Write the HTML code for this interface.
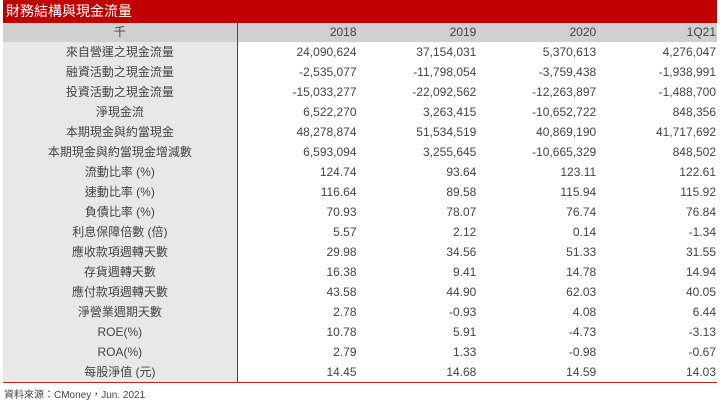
<!DOCTYPE html>
<html><head><meta charset="utf-8"><style>
body{margin:0;width:720px;height:404px;background:#fff;font-family:"Liberation Sans","Noto Sans CJK TC",sans-serif;color:#444;position:relative;overflow:hidden}
.title{position:absolute;left:3px;top:0;width:714px;height:23px;background:#c00000;color:#fff;font-size:14px;line-height:23px;padding-left:3px;box-sizing:border-box}
table{position:absolute;left:3px;top:23px;width:714px;border-collapse:collapse;font-size:12px}
td,th{padding:0;height:20px;line-height:20px;font-weight:normal}
th{background:#d0d0d0;height:19px;line-height:19px;font-size:12px}
td.l,th.l{text-align:center;width:236px;border-right:1.5px solid #444}
td.l{background:#e8e8e8}
td.n,th.n{text-align:right;width:119.5px;padding-right:1px}
tr:last-child td{border-bottom:1.5px solid #b22}
.src{position:absolute;left:4px;top:386px;font-size:10px;color:#444}
</style></head><body>
<div class="title">財務結構與現金流量</div>
<table>
<tr><th class="l">千</th><th class="n">2018</th><th class="n">2019</th><th class="n">2020</th><th class="n">1Q21</th></tr>
<tr><td class="l">來自營運之現金流量</td><td class="n">24,090,624</td><td class="n">37,154,031</td><td class="n">5,370,613</td><td class="n">4,276,047</td></tr>
<tr><td class="l">融資活動之現金流量</td><td class="n">-2,535,077</td><td class="n">-11,798,054</td><td class="n">-3,759,438</td><td class="n">-1,938,991</td></tr>
<tr><td class="l">投資活動之現金流量</td><td class="n">-15,033,277</td><td class="n">-22,092,562</td><td class="n">-12,263,897</td><td class="n">-1,488,700</td></tr>
<tr><td class="l">淨現金流</td><td class="n">6,522,270</td><td class="n">3,263,415</td><td class="n">-10,652,722</td><td class="n">848,356</td></tr>
<tr><td class="l">本期現金與約當現金</td><td class="n">48,278,874</td><td class="n">51,534,519</td><td class="n">40,869,190</td><td class="n">41,717,692</td></tr>
<tr><td class="l">本期現金與約當現金增減數</td><td class="n">6,593,094</td><td class="n">3,255,645</td><td class="n">-10,665,329</td><td class="n">848,502</td></tr>
<tr><td class="l">流動比率 (%)</td><td class="n">124.74</td><td class="n">93.64</td><td class="n">123.11</td><td class="n">122.61</td></tr>
<tr><td class="l">速動比率 (%)</td><td class="n">116.64</td><td class="n">89.58</td><td class="n">115.94</td><td class="n">115.92</td></tr>
<tr><td class="l">負債比率 (%)</td><td class="n">70.93</td><td class="n">78.07</td><td class="n">76.74</td><td class="n">76.84</td></tr>
<tr><td class="l">利息保障倍數 (倍)</td><td class="n">5.57</td><td class="n">2.12</td><td class="n">0.14</td><td class="n">-1.34</td></tr>
<tr><td class="l">應收款項週轉天數</td><td class="n">29.98</td><td class="n">34.56</td><td class="n">51.33</td><td class="n">31.55</td></tr>
<tr><td class="l">存貨週轉天數</td><td class="n">16.38</td><td class="n">9.41</td><td class="n">14.78</td><td class="n">14.94</td></tr>
<tr><td class="l">應付款項週轉天數</td><td class="n">43.58</td><td class="n">44.90</td><td class="n">62.03</td><td class="n">40.05</td></tr>
<tr><td class="l">淨營業週期天數</td><td class="n">2.78</td><td class="n">-0.93</td><td class="n">4.08</td><td class="n">6.44</td></tr>
<tr><td class="l">ROE(%)</td><td class="n">10.78</td><td class="n">5.91</td><td class="n">-4.73</td><td class="n">-3.13</td></tr>
<tr><td class="l">ROA(%)</td><td class="n">2.79</td><td class="n">1.33</td><td class="n">-0.98</td><td class="n">-0.67</td></tr>
<tr><td class="l">每股淨值 (元)</td><td class="n">14.45</td><td class="n">14.68</td><td class="n">14.59</td><td class="n">14.03</td></tr>
</table>
<div class="src">資料來源：CMoney，Jun. 2021</div>
</body></html>
